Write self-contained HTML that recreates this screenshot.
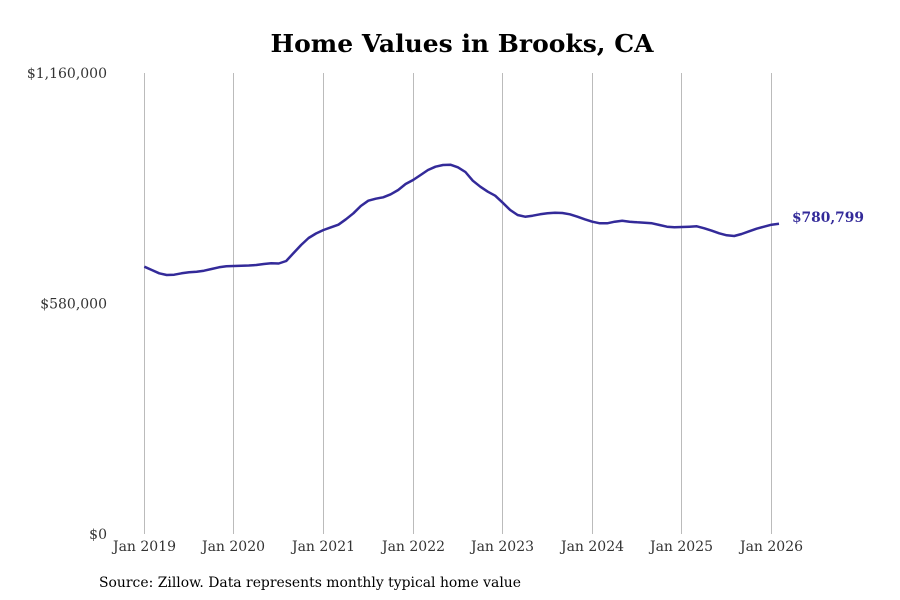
<!DOCTYPE html>
<html><head><meta charset="utf-8"><style>
body{margin:0;background:#fff;}
svg{display:block;font-family:"DejaVu Serif","Liberation Serif",serif;}
</style></head><body>
<svg id="chart" width="900" height="600">
<text x="462" y="52" text-anchor="middle" font-size="24" font-weight="bold" textLength="383" lengthAdjust="spacingAndGlyphs">Home Values in Brooks, CA</text>
<g id="grid"></g><g id="yaxis"></g><g id="xaxis"></g><g id="series"></g>
<text x="99" y="587" font-size="14" fill="#000" textLength="422" lengthAdjust="spacingAndGlyphs">Source: Zillow. Data represents monthly typical home value</text>
</svg>
<script>
const yTicks=[0,580000,1160000];
const yTickLabels=["$0","$580,000","$1,160,000"];
const xTickYears=[2019,2020,2021,2022,2023,2024,2025,2026];
const xTickLabels=["Jan 2019","Jan 2020","Jan 2021","Jan 2022","Jan 2023","Jan 2024","Jan 2025","Jan 2026"];
const startYear=2019;
// monthly typical home value, thousands of dollars, from Jan 2019
const values=[
672.6,664.3,656.0,651.7,652.5,656.0,658.5,660.0,662.5,666.8,671.1,673.6,
674.4,674.9,675.6,676.9,679.4,681.2,680.7,687.0,707.1,727.2,744.8,756.2,
765.0,771.8,778.3,791.9,807.0,825.3,838.7,843.7,847.2,854.8,865.6,880.7,
890.8,903.4,915.9,924.3,928.5,929.3,922.7,910.9,889.0,873.9,861.3,851.3,
833.7,815.3,802.7,798.4,800.9,804.5,807.0,808.5,807.7,804.5,798.4,791.9,
785.8,781.8,781.8,785.8,788.4,785.8,784.3,783.3,781.8,777.5,773.3,771.8,
772.5,773.3,774.3,769.2,763.2,756.7,751.6,749.9,754.9,761.7,768.2,773.3,
778.3,780.799];
const lastLabel="$780,799";
const NS="http://www.w3.org/2000/svg";
const X0=144.3,PX_YEAR=89.6,Y0=534,Y1=73,YMAX=1160000;
const xm=m=>X0+m*PX_YEAR/12;
const y=v=>Y0-(v/YMAX)*(Y0-Y1);
function mk(t,a,p){const e=document.createElementNS(NS,t);for(const k in a)e.setAttribute(k,a[k]);p.appendChild(e);return e;}
const grid=document.getElementById('grid'),ya=document.getElementById('yaxis'),xa=document.getElementById('xaxis'),se=document.getElementById('series');
xTickYears.forEach((yr,i)=>{
  const x=Math.floor(xm((yr-startYear)*12))+0.5;
  const l=mk('line',{x1:x,x2:x,y1:Y1,y2:Y0,stroke:'#bbb','stroke-width':1},grid);
  
  
  const t=mk('text',{x:x,y:551,'text-anchor':'middle','font-size':14,fill:'#333'},xa);
  t.textContent=xTickLabels[i];
  
  
});
yTicks.forEach((v,i)=>{
  const t=mk('text',{x:107,y:y(v)+5,'text-anchor':'end','font-size':14,fill:'#333'},ya);
  t.textContent=yTickLabels[i];
  
  
});
const pts=values.map((v,i)=>xm(i).toFixed(1)+','+y(v*1000).toFixed(1));
const line=mk('polyline',{points:pts.join(' '),fill:'none',stroke:'#332a99','stroke-width':2.5,'stroke-linejoin':'round'},se);


const li=values.length-1;
const lab=mk('text',{x:xm(li)+13,y:y(values[li]*1000)-1.5,'font-size':13.8,'font-weight':'bold',fill:'#332a99'},se);
lab.textContent=lastLabel;


</script>
</body></html>
